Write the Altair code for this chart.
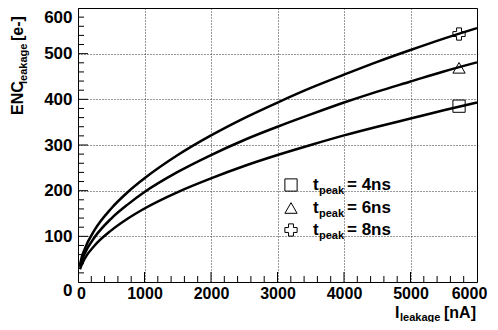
import altair as alt
import pandas as pd

# ---- data ----
I_vals = [30, 50, 100, 250, 500, 750, 1000, 1500, 2000, 2500, 3000, 3500, 4000, 4500, 5000, 5500, 6000]
enc_4ns = [28, 36, 51, 80, 113, 139, 161, 197, 227, 254, 278, 300, 321, 340, 358, 376, 393]
enc_6ns = [33, 44, 62, 98, 139, 170, 197, 241, 278, 311, 340, 367, 393, 417, 439, 461, 481]
enc_8ns = [37, 51, 72, 114, 161, 197, 227, 278, 321, 359, 393, 425, 454, 482, 508, 533, 556]
series_names = ["4ns", "6ns", "8ns"]
marker_I = [5730, 5730, 5730]
marker_enc = [385, 469, 543]
marker_shapes = ["square", "triangle-up", "cross"]

x_major = [0, 1000, 2000, 3000, 4000, 5000, 6000]
y_major = [0, 100, 200, 300, 400, 500, 600]
x_minor = [v for v in range(0, 6001, 200) if v % 1000 != 0]
y_minor = [v for v in range(0, 601, 20) if v % 100 != 0]

FONT = "Liberation Sans"
W, H = 399, 274

rows = []
for name, vals in zip(series_names, [enc_4ns, enc_6ns, enc_8ns]):
    for i, v in zip(I_vals, vals):
        rows.append({"I": i, "ENC": v, "s": name})
curves = pd.DataFrame(rows)
markers = pd.DataFrame({"I": marker_I, "ENC": marker_enc, "s": series_names, "shape": marker_shapes})

xs = alt.Scale(domain=[0, 6000], nice=False, zero=False)
ys = alt.Scale(domain=[0, 600], nice=False, zero=False)

xaxis = alt.Axis(values=x_major, format="d", grid=True, gridDash=[1, 2], gridColor="black", gridOpacity=0.8,
                 ticks=False, domain=False, labelFont=FONT, labelFontWeight="bold", labelFontSize=16,
                 labelColor="black", labelPadding=3, title=None, labelFlush=False,
                 labelOffset=alt.expr("datum.value == 0 ? 3 : (datum.value == 6000 ? -8 : 0)"))
yaxis = alt.Axis(values=y_major, format="d", grid=True, gridDash=[1, 2], gridColor="black", gridOpacity=0.8,
                 ticks=False, domain=False, labelFont=FONT, labelFontWeight="bold", labelFontSize=17,
                 labelColor="black", labelPadding=6, title=None,
                 labelOffset=alt.expr("datum.value == 600 ? 9 : (datum.value == 0 ? 8 : 0)"))

lines = alt.Chart(curves).mark_line(color="black", strokeWidth=2.5, interpolate="monotone").encode(
    x=alt.X("I:Q", scale=xs, axis=xaxis),
    y=alt.Y("ENC:Q", scale=ys, axis=yaxis),
    detail="s:N",
)

pts = alt.Chart(markers).mark_point(filled=False, color="black", strokeWidth=1, size=150, opacity=1).encode(
    x=alt.X("I:Q", scale=xs),
    y=alt.Y("ENC:Q", scale=ys),
    shape=alt.Shape("shape:N", scale=None, legend=None),
)

def xticks(vals, length):
    return alt.Chart(pd.DataFrame({"v": vals})).mark_rule(color="black", strokeWidth=1).encode(
        x=alt.X("v:Q", scale=xs), y=alt.value(H), y2=alt.value(H - length))

def yticks(vals, length):
    return alt.Chart(pd.DataFrame({"v": vals})).mark_rule(color="black", strokeWidth=1).encode(
        y=alt.Y("v:Q", scale=ys), x=alt.value(0), x2=alt.value(length))

def txt(s, x, y, size, align="left", baseline="middle", angle=0):
    kw = dict(font=FONT, fontWeight="bold", fontSize=size, align=align, baseline=baseline, color="black")
    if angle:
        kw["angle"] = angle
    return alt.Chart(pd.DataFrame({"t": [s]})).mark_text(**kw).encode(
        text="t:N", x=alt.value(x), y=alt.value(y))

layers = [lines,
          xticks(x_minor, 6), xticks(x_major[1:-1], 10),
          yticks(y_minor, 6), yticks(y_major[1:-1], 10),
          pts]

# legend
leg_rows_y = [177, 200, 222]
legend_labels = ["= 4ns", "= 6ns", "= 8ns"]
for shp, ly, lab in zip(marker_shapes, leg_rows_y, legend_labels):
    layers.append(alt.Chart(pd.DataFrame({"shape": [shp]})).mark_point(
        filled=False, color="black", strokeWidth=1, size=150, opacity=1).encode(
        x=alt.value(213), y=alt.value(ly), shape=alt.Shape("shape:N", scale=None, legend=None)))
    layers.append(txt("t", 235, ly, 17))
    layers.append(txt("peak", 241, ly + 6, 11))
    layers.append(txt(lab, 269, ly, 17))

# x title: I_leakage [nA]
layers.append(txt("I", 317, 305, 16))
layers.append(txt("leakage", 322, 310, 11))
layers.append(txt("[nA]", 366, 305, 16))

# y title: ENC_leakage [e-] (rotated)
layers.append(txt("ENC", -60, 107, 16, angle=270))
layers.append(txt("leakage", -54, 76, 11, angle=270))
layers.append(txt("[e-]", -60, 33, 16, angle=270))

chart = alt.layer(*layers).properties(
    width=W, height=H,
    autosize=alt.AutoSizeParams(type="none"),
    padding={"left": 70, "top": 0, "right": 13, "bottom": 40},
    background="white",
).configure_view(stroke="black", strokeWidth=1)

chart.save("out.html", embed_options={"renderer": "svg", "actions": False})
